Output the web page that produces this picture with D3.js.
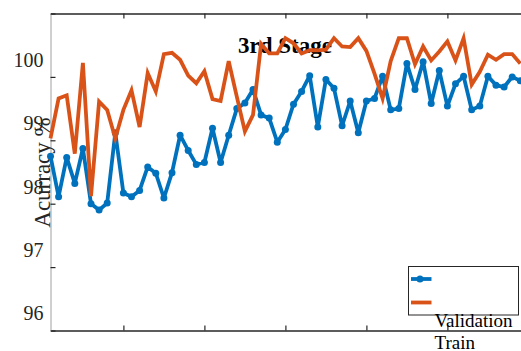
<!DOCTYPE html>
<html><head><meta charset="utf-8">
<script src="https://cdn.jsdelivr.net/npm/d3@7"></script>
<style>body{margin:0;background:#fff;overflow:hidden;} svg{display:block;}</style>
</head><body>
<svg id="c" width="521" height="351"></svg>
<script>
const epochs = d3.range(1, 60);
const validation = [98.75, 98.11, 98.73, 98.32, 98.87, 98.00, 97.90, 98.01, 99.12, 98.17,
  98.11, 98.21, 98.58, 98.48, 98.09, 98.49, 99.08, 98.84, 98.62, 98.65,
  99.19, 98.65, 99.08, 99.50, 99.59, 99.80, 99.40, 99.35, 98.97, 99.17,
  99.57, 99.77, 100.02, 99.21, 99.96, 99.82, 99.23, 99.62, 99.12, 99.62,
  99.66, 100.01, 99.48, 99.50, 100.21, 99.80, 100.24, 99.58, 100.10, 99.54,
  99.89, 100.01, 99.48, 99.54, 100.01, 99.87, 99.84, 100.00, 99.94];
const train = [99.03, 99.66, 99.71, 98.79, 100.22, 98.12, 99.61, 99.48, 99.03, 99.48,
  99.79, 99.21, 100.06, 99.77, 100.36, 100.38, 100.27, 100.02, 99.90, 100.09,
  99.65, 99.62, 100.25, 99.69, 99.14, 99.40, 100.52, 100.37, 100.37, 100.61,
  100.53, 100.37, 100.42, 100.42, 100.43, 100.61, 100.48, 100.47, 100.61, 100.41,
  100.05, 99.66, 100.25, 100.61, 100.61, 100.20, 100.48, 100.26, 100.40, 100.56,
  100.26, 100.61, 99.88, 100.08, 100.35, 100.27, 100.36, 100.36, 100.21];
const yTicks = [96, 97, 98, 99, 100, 101];
const yTickLabels = ["96", "97", "98", "99", "100", ""];
const xTicks = [10, 20, 30, 40, 50, 60];
const seriesNames = ["Validation", "Train"];
const titleText = "3rd Stage";
const yLabelText = "Acurracy %";

const blue = "#0072BD", orange = "#D95319", ink = "#262626";
const font = "'Liberation Serif', 'Times New Roman', serif";

const svg = d3.select("#c");
const L = 50.5, R = 528.4, T = 13.5, B = 330.5;
const x = d3.scaleLinear().domain([1, 60]).range([L, R]);
const y = d3.scaleLinear().domain([96, 101]).range([B, T]);

svg.append("defs").append("clipPath").attr("id", "clip")
  .append("rect").attr("x", L - 4).attr("y", T).attr("width", R - L + 8).attr("height", B - T);

// title (drawn under the lines)
svg.append("text").attr("x", 238).attr("y", 53)
  .attr("font-family", font).attr("font-weight", "bold").attr("font-size", 23)
  .attr("fill", "#000").text(titleText);

// axes
const gB = svg.append("g").attr("transform", `translate(0,${B})`)
  .call(d3.axisBottom(x).tickValues(xTicks).tickSizeInner(-5).tickSizeOuter(0).tickFormat(""));
const gT = svg.append("g").attr("transform", `translate(0,${T})`)
  .call(d3.axisTop(x).tickValues(xTicks).tickSizeInner(-5).tickSizeOuter(0).tickFormat(""));
[gB, gT].forEach(g => {
  g.select(".domain").attr("stroke", ink).attr("stroke-width", 1.4);
  g.selectAll(".tick line").attr("stroke", ink).attr("stroke-width", 1.2);
});
const gL = svg.append("g").attr("transform", `translate(${L},0)`)
  .call(d3.axisLeft(y).tickValues(yTicks).tickSizeInner(-5).tickSizeOuter(0).tickPadding(7)
    .tickFormat((d, i) => yTickLabels[i]));
gL.select(".domain").attr("stroke", "#a0a0a0").attr("stroke-width", 1);
gL.selectAll(".tick line").attr("stroke", ink).attr("stroke-width", 1.2);
gL.selectAll(".tick text").attr("y", -17).attr("font-family", font).attr("font-size", 20).attr("fill", ink);

// y label
svg.append("text").attr("transform", "translate(50,172.5) rotate(-90)")
  .attr("text-anchor", "middle").attr("font-family", font).attr("font-size", 23)
  .attr("fill", ink).text(yLabelText);

// lines
const line = d3.line().x((d, i) => x(epochs[i])).y(d => y(d));
const plot = svg.append("g").attr("clip-path", "url(#clip)");
plot.append("path").datum(validation).attr("d", line)
  .attr("fill", "none").attr("stroke", blue).attr("stroke-width", 3.8).attr("stroke-linejoin", "round");
plot.selectAll("circle").data(validation).join("circle")
  .attr("cx", (d, i) => x(epochs[i])).attr("cy", d => y(d)).attr("r", 3.5).attr("fill", blue);
plot.append("path").datum(train).attr("d", line)
  .attr("fill", "none").attr("stroke", orange).attr("stroke-width", 3.8).attr("stroke-linejoin", "miter");

// legend
const lg = svg.append("g");
lg.append("rect").attr("x", 408.5).attr("y", 266.5).attr("width", 110).attr("height", 48.5)
  .attr("fill", "#fff").attr("stroke", ink).attr("stroke-width", 1);
const colors = [blue, orange];
const sampleY = [279, 302.5];
const labelY = [326.5, 348.5];
seriesNames.forEach((name, i) => {
  lg.append("line").attr("x1", 411).attr("x2", 431.5).attr("y1", sampleY[i]).attr("y2", sampleY[i])
    .attr("stroke", colors[i]).attr("stroke-width", 3.8);
  if (i === 0) lg.append("circle").attr("cx", 420).attr("cy", sampleY[i]).attr("r", 3.5).attr("fill", blue);
  lg.append("text").attr("x", 434.5).attr("y", labelY[i]).attr("font-family", font)
    .attr("font-size", 19).attr("fill", "#000").text(name);
});
</script>
</body></html>
